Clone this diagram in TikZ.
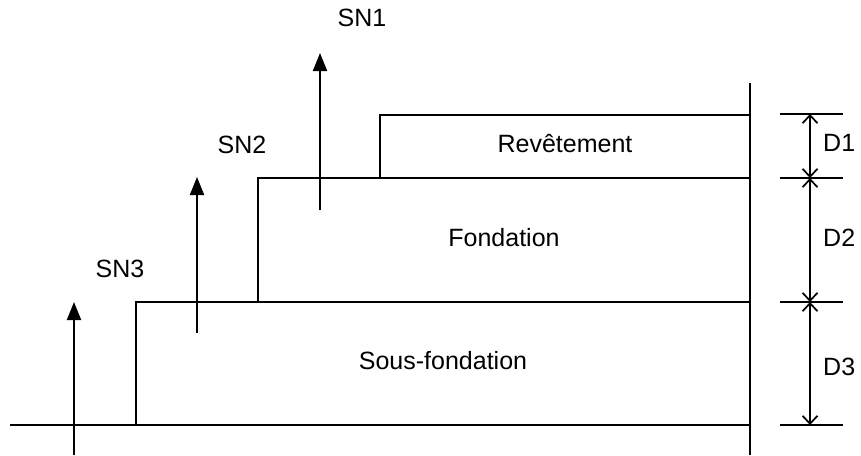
\documentclass[tikz,border=0pt]{standalone}
\usepackage{fontspec}
\setmainfont{Liberation Sans}
\usetikzlibrary{arrows.meta}
\begin{document}
\begin{tikzpicture}[x=1pt,y=-1pt,
  edge/.style={line width=2.1pt},
  load/.style={line width=2pt,-{Triangle[length=18pt,width=14pt]}},
  dimline/.style={line width=1.7pt,
    {Straight Barb[length=8pt,width=15pt]}-{Straight Barb[length=8pt,width=15pt]}},
  extline/.style={line width=1.8pt},
  lbl/.style={font=\fontsize{25}{30}\selectfont, inner sep=0pt}]
\useasboundingbox (0,0) rectangle (861,455);

% key points of the layered section
\coordinate (g0) at (10,425);
\coordinate (g1) at (750,425);
\coordinate (wTop) at (750,83);
\coordinate (wBot) at (750,455);
\coordinate (l3) at (136,425);
\coordinate (t3) at (136,302);
\coordinate (r3) at (750,302);
\coordinate (l2) at (258,302);
\coordinate (t2) at (258,178);
\coordinate (r2) at (750,178);
\coordinate (l1) at (380,178);
\coordinate (t1) at (380,115);
\coordinate (r1) at (750,115);

% ground, wall and layer outlines
\draw[edge] (g0) -- (g1);
\draw[edge] (wTop) -- (wBot);
\draw[edge] (l3) -- (t3) -- (r3);
\draw[edge] (l2) -- (t2) -- (r2);
\draw[edge] (l1) -- (t1) -- (r1);

% layer names
\node[lbl] (rev) at (565,144) {Revêtement};
\node[lbl] (fon) at (504,238) {Fondation};
\node[lbl] (sfo) at (443,361) {Sous-fondation};

% structural number arrows
\coordinate (a3s) at (74,455);
\coordinate (a3e) at (74,302);
\coordinate (a2s) at (197,333);
\coordinate (a2e) at (197,177);
\coordinate (a1s) at (320,210);
\coordinate (a1e) at (320,53);
\draw[load] (a3s) -- (a3e);
\draw[load] (a2s) -- (a2e);
\draw[load] (a1s) -- (a1e);
\node[lbl] (sn1) at (362,18) {SN1};
\node[lbl] (sn2) at (242,145) {SN2};
\node[lbl] (sn3) at (120,269) {SN3};

% thickness dimensions
\foreach \n/\y in {0/114,1/178,2/302,3/425}{
  \coordinate (dL\n) at (780,\y);
  \coordinate (dR\n) at (843,\y);
  \coordinate (d\n) at (810,\y);
  \draw[extline] (dL\n) -- (dR\n);
}
\draw[dimline] (d0) -- (d1);
\draw[dimline] (d1) -- (d2);
\draw[dimline] (d2) -- (d3);
\node[lbl,anchor=west] (D1) at (823,143) {D1};
\node[lbl,anchor=west] (D2) at (823,238) {D2};
\node[lbl,anchor=west] (D3) at (823,367) {D3};
\end{tikzpicture}
\end{document}
